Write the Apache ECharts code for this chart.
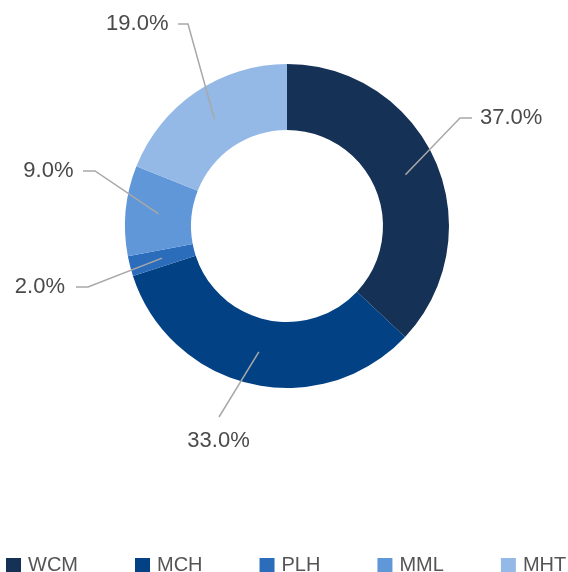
<!DOCTYPE html>
<html>
<head>
<meta charset="utf-8">
<script src="https://cdn.jsdelivr.net/npm/echarts@6/dist/echarts.min.js"></script>
<style>
  html, body { margin: 0; padding: 0; background: #fff; }
  #chart { width: 568px; height: 572px; }
</style>
</head>
<body>
<div id="chart"></div>
<script>
const categories = ['WCM', 'MCH', 'PLH', 'MML', 'MHT'];
const values = [37, 33, 2, 9, 19];
const colors = ['#163156', '#024184', '#2b6cbb', '#6097d9', '#95b9e6'];

// where each label sits and where its leader line bends (pixels)
const labelSpots = [
  { x: 480, y: 118, align: 'left', bend: [[460, 118], [472, 118]] },
  { x: 218.5, y: 441, align: 'center', bend: [[219, 417]] },
  { x: 65, y: 287, align: 'right', bend: [[88, 287], [76, 287]] },
  { x: 73.5, y: 171, align: 'right', bend: [[95, 171], [83, 171]] },
  { x: 168.5, y: 24, align: 'right', bend: [[188, 24], [178, 24]] }
];

const center = [287, 226];
const innerR = 96;
const outerR = 162;
const midR = (innerR + outerR) / 2;
const fontFamily = '"Liberation Sans", Arial, Helvetica, sans-serif';

const total = values.reduce((a, b) => a + b, 0);

let chart = echarts.init(document.getElementById('chart'));

let ringData = categories.map((name, i) => ({
  name: name,
  value: values[i],
  itemStyle: { color: colors[i] }
}));

// same slices again, invisible, only to draw labels and lines on top of the ring
let labelData = categories.map((name, i) => ({
  name: name,
  value: values[i]
}));

let option = {
  animation: false,
  color: colors,
  legend: {
    data: categories,
    left: 6,
    top: 555.5,
    width: 600,
    padding: 0,
    icon: 'rect',
    itemWidth: 15,
    itemHeight: 15,
    itemGap: 57,
    textStyle: {
      fontFamily: fontFamily,
      fontSize: 20,
      color: '#555555',
      padding: [0, 0, 0, 2]
    }
  },
  series: [{
    type: 'pie',
    center: center,
    radius: [innerR, outerR],
    startAngle: 90,
    clockwise: true,
    itemStyle: { borderWidth: 0 },
    emphasis: { disabled: true },
    label: { show: false },
    labelLine: { show: false },
    data: ringData
  }, {
    type: 'pie',
    center: center,
    radius: [innerR, outerR],
    startAngle: 90,
    clockwise: true,
    silent: true,
    z: 5,
    avoidLabelOverlap: false,
    itemStyle: { color: 'rgba(0,0,0,0)', borderWidth: 0 },
    emphasis: { disabled: true },
    label: {
      show: true,
      position: 'outside',
      fontFamily: fontFamily,
      fontSize: 22,
      color: '#4a4a4a',
      formatter: function (p) {
        return (p.value / total * 100).toFixed(1) + '%';
      }
    },
    labelLine: {
      show: true,
      length: 20,
      length2: 10,
      lineStyle: { color: '#a8a8a8', width: 1.5 }
    },
    labelLayout: function (params) {
      let spot = labelSpots[params.dataIndex];
      let p0 = params.labelLinePoints[0];
      // start leader line in the middle of the ring
      let k = midR / outerR;
      let start = [center[0] + (p0[0] - center[0]) * k, center[1] + (p0[1] - center[1]) * k];
      return {
        x: spot.x,
        y: spot.y,
        align: spot.align,
        verticalAlign: 'middle',
        labelLinePoints: [start].concat(spot.bend.length === 1 ? [spot.bend[0], spot.bend[0]] : spot.bend)
      };
    },
    data: labelData
  }]
};

chart.setOption(option);
</script>
</body>
</html>
